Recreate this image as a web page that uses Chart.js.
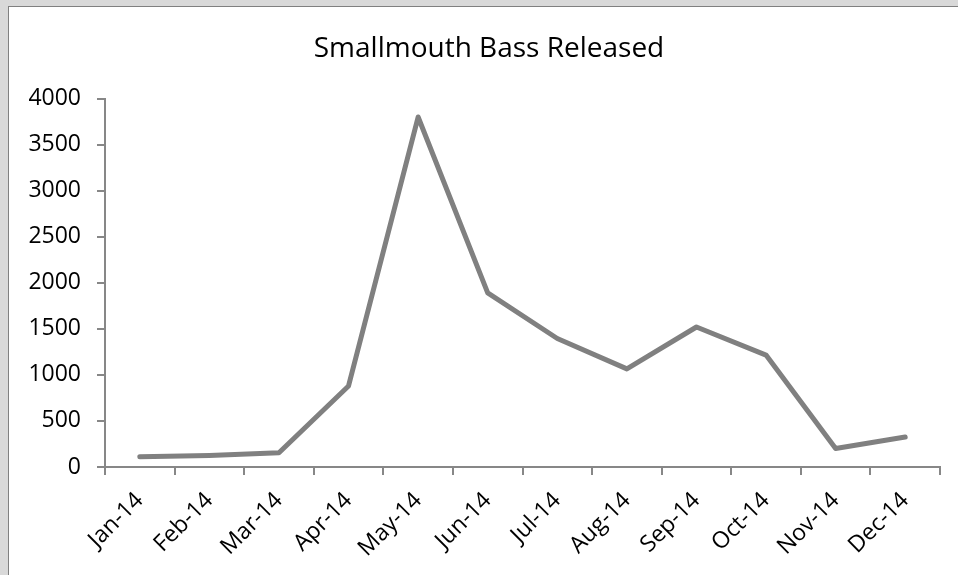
<!DOCTYPE html>
<html>
<head>
<meta charset="utf-8">
<script src="https://cdn.jsdelivr.net/npm/chart.js@4/dist/chart.umd.min.js"></script>
<style>
  html, body { margin: 0; padding: 0; width: 958px; height: 575px; overflow: hidden; background: #d9d9d9; }
  #frame { position: absolute; left: 8px; top: 6px; width: 960px; height: 580px; background: #fff; border-left: 1px solid #808080; border-top: 1px solid #808080; }
  #wrap { position: absolute; left: 0; top: 0; width: 958px; height: 575px; }
</style>
</head>
<body>
<div id="frame"></div>
<div id="wrap"><canvas id="c" width="958" height="575"></canvas></div>
<script>
const categories = ["Jan-14","Feb-14","Mar-14","Apr-14","May-14","Jun-14","Jul-14","Aug-14","Sep-14","Oct-14","Nov-14","Dec-14"];
const released = [110, 125, 155, 880, 3800, 1890, 1395, 1065, 1520, 1215, 200, 325];
const yTicks = [0, 500, 1000, 1500, 2000, 2500, 3000, 3500, 4000];
const chartTitle = "Smallmouth Bass Released";

Chart.defaults.font.family = "'Open Sans', sans-serif";
Chart.defaults.color = "#000";

// shift the title box so it is centred over the framed panel
const titleShift = {
  id: "titleShift",
  afterLayout(chart) {
    const t = chart.titleBlock;
    if (t) { t.left += 38; }
  }
};

new Chart(document.getElementById("c"), {
  type: "line",
  data: {
    labels: categories,
    datasets: [{
      label: chartTitle,
      data: released,
      borderColor: "#808080",
      backgroundColor: "#808080",
      borderWidth: 5,
      pointRadius: 0,
      pointHoverRadius: 0,
      tension: 0,
      borderCapStyle: "round",
      borderJoinStyle: "round",
      fill: false
    }]
  },
  plugins: [titleShift],
  options: {
    responsive: false,
    animation: false,
    events: [],
    layout: { padding: { top: 32, left: 0, right: 18, bottom: 0 } },
    plugins: {
      legend: { display: false },
      tooltip: { enabled: false },
      title: {
        display: true,
        text: chartTitle,
        color: "#000",
        font: { size: 28, weight: "normal" },
        padding: { top: 0, bottom: 33 }
      }
    },
    scales: {
      x: {
        type: "category",
        offset: true,
        grid: { display: true, offset: true, drawOnChartArea: false, drawTicks: true, tickLength: 8, color: "#878787", lineWidth: 2 },
        border: { display: true, color: "#878787", width: 2 },
        ticks: { font: { size: 23 }, maxRotation: 45, minRotation: 45, padding: 12, autoSkip: false },
        afterFit: s => { s.height = 108; }
      },
      y: {
        min: 0, max: 4000,
        afterBuildTicks: s => { s.ticks = yTicks.map(v => ({ value: v })); },
        grid: { display: true, drawOnChartArea: false, drawTicks: true, tickLength: 8, color: "#878787", lineWidth: 2 },
        border: { display: true, color: "#878787", width: 2 },
        ticks: { font: { size: 23 }, padding: 16, callback: v => String(v) },
        afterFit: s => { s.width = 105; }
      }
    }
  }
});
</script>
</body>
</html>
